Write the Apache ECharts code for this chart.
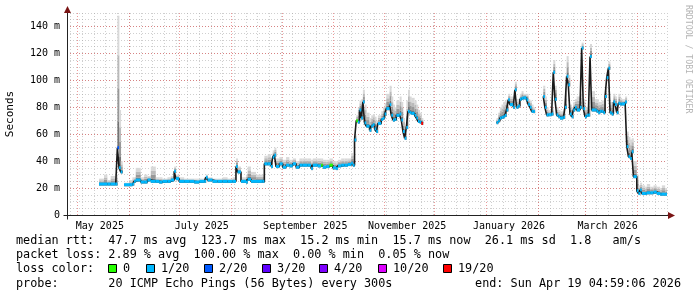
<!DOCTYPE html>
<html>
<head>
<meta charset="utf-8">
<script src="https://cdn.jsdelivr.net/npm/echarts@6/dist/echarts.min.js"></script>
<style>
html,body{margin:0;padding:0;background:#fff;}
#c{width:697px;height:297px;}
</style>
</head>
<body>
<div id="c"></div>
<script>
// ---------------- data ----------------
const dates = [
'2025-05-14','2025-05-17','2025-05-19','2025-05-21','2025-05-24','2025-05-25','2025-05-26','2025-05-27','2025-05-28',
'2025-05-29','2025-06-01','2025-06-03','2025-06-04','2025-06-05','2025-06-08','2025-06-10','2025-06-12','2025-06-14','2025-06-17','2025-06-19','2025-06-21','2025-06-24','2025-06-26','2025-06-28','2025-06-29',
'2025-07-01','2025-07-04','2025-07-07','2025-07-10','2025-07-13','2025-07-16','2025-07-17','2025-07-18','2025-07-21','2025-07-24','2025-07-27','2025-07-30',
'2025-08-02','2025-08-04','2025-08-05','2025-08-07','2025-08-10','2025-08-11','2025-08-13','2025-08-16','2025-08-19','2025-08-20','2025-08-21','2025-08-23','2025-08-25','2025-08-26','2025-08-27','2025-08-28','2025-08-30',
'2025-09-01','2025-09-03','2025-09-05','2025-09-07','2025-09-09','2025-09-11','2025-09-13','2025-09-16','2025-09-18','2025-09-19','2025-09-22','2025-09-24','2025-09-25','2025-09-27','2025-09-29',
'2025-10-01','2025-10-03','2025-10-04','2025-10-06','2025-10-08','2025-10-10','2025-10-12','2025-10-13','2025-10-14','2025-10-15','2025-10-16','2025-10-17','2025-10-18','2025-10-19','2025-10-20','2025-10-21','2025-10-23','2025-10-24','2025-10-25','2025-10-26','2025-10-27','2025-10-28','2025-10-30','2025-10-31',
'2025-11-01','2025-11-02','2025-11-04','2025-11-05','2025-11-06','2025-11-07','2025-11-08','2025-11-10','2025-11-11','2025-11-12','2025-11-13','2025-11-14','2025-11-15','2025-11-16','2025-11-17','2025-11-19','2025-11-20','2025-11-21','2025-11-22','2025-11-23','2025-11-24',
'2026-01-07','2026-01-08','2026-01-09','2026-01-10','2026-01-11','2026-01-12','2026-01-13','2026-01-14','2026-01-15','2026-01-17','2026-01-18','2026-01-19','2026-01-20','2026-01-21','2026-01-22','2026-01-23','2026-01-25','2026-01-26','2026-01-27','2026-01-28','2026-01-29','2026-01-30',
'2026-02-04','2026-02-05','2026-02-06','2026-02-07','2026-02-09','2026-02-10','2026-02-11','2026-02-12','2026-02-13','2026-02-14','2026-02-16','2026-02-17','2026-02-18','2026-02-19','2026-02-20','2026-02-21','2026-02-22','2026-02-23','2026-02-24','2026-02-26','2026-02-27','2026-02-28',
'2026-03-01','2026-03-02','2026-03-03','2026-03-04','2026-03-05','2026-03-07','2026-03-08','2026-03-09','2026-03-10','2026-03-11','2026-03-12','2026-03-13','2026-03-14','2026-03-15','2026-03-16','2026-03-17','2026-03-18','2026-03-19','2026-03-20','2026-03-21','2026-03-22','2026-03-23','2026-03-25','2026-03-26','2026-03-27','2026-03-28','2026-03-29','2026-03-30',
'2026-04-01','2026-04-02','2026-04-03','2026-04-04','2026-04-06','2026-04-07','2026-04-09','2026-04-11','2026-04-13','2026-04-15','2026-04-16','2026-04-18'
];
// median round trip time (ms); null = no data
const medianMs = [
23,23,23,23,23,50,35,32,null,
22.5,22.5,23,25,26,24.5,24.5,26,25,25,24.5,25,25,26,32.5,27,
25,25,25,24.5,25,25,28,26,25,25,25,25,
25,36,32,25,24.5,26.5,25,25,25,25,38,38,36,43,44.5,36,38,
35.5,37,36.5,38,35.5,37,37,37,34.5,37,36.5,37,35.5,36,37,
35,34.5,36.5,37,37,37.5,38.5,37,55.7,70,69,78,72,84,68.4,66,63,66,67,64,62,68,71,72,
75,79,82,74,70.5,71,74,75,70.5,62,57,65,77,76,75.5,74,72,69.5,69,68,null,
68.6,70,72,72.5,73,74,78,85.5,82,80,93,80,81,86,86.7,87,85.5,82,80,77,76.8,null,
88,80,74.3,74.5,75,106,86,74.3,73,72,72.5,80,103,96.7,75,73,78,80,78,80,124,79,
73,74,74.3,117.7,78,78,77,76,77,77,76,88,102,109,76,75,84,82,76,83,82.5,82.5,84,50.8,43.4,42,47,28.5,
18,16,18.6,16,16,16.5,16.5,17,16,15.5,15.5,15.5
];
// top of the smoke (slowest ping, ms)
const smokeMaxMs = [
27,30,26,29,30,148,78,40,null,
24,26,28,28,35,28,30,29,36,28,28,27,28,29,36,30,
28,27,27,27,27,28,30,28,27,27,28,27,
28,42,36,28,30,36,32,30,30,30,44,45,42,48,50,42,43,
41,43,41,42,40,42,42,42,41,42,42,42,41,41,42,
40,40,41,42,42,42,46,44,60,74,80,85,86,93,82,76,72,74,75,73,70,74,77,80,
83,90,96,88,82,80,85,88,84,72,66,85,93,88,87,85,82,78,76,72,null,
72,76,80,82,84,85,86,90,88,86,99,86,86,90,92,90,90,86,85,82,80,null,
96,88,80,78,80,115,96,80,78,77,79,95,118,104,82,80,84,86,88,90,128,86,
80,80,84,127,92,86,86,84,84,85,85,94,108,114,84,82,90,88,82,90,87,86,88,62,58,56,57,40,
30,22,24,22,21,23,21,22,21,20,22,20
];
// loss level per sample: most samples are at level 1 (1/20); exceptions listed
const baseLossLevel = 1;
const lossEventDates = ['2025-05-25','2025-09-24','2025-09-29','2025-10-15','2025-11-23'];
const lossEventLevels = [2,0,0,0,6];

const lossLabels = ['0','1/20','2/20','3/20','4/20','10/20','19/20'];
const lossColors = ['#26ff00','#00b8ff','#0059ff','#5e00ff','#7e00ff','#dd00ff','#ff0000'];

const yTickValues = [0,20,40,60,80,100,120,140];
const monthLabels = ['May 2025','July 2025','September 2025','November 2025','January 2026','March 2026'];
const monthLabelDates = ['2025-05-14','2025-07-14','2025-09-14','2025-11-14','2026-01-14','2026-03-14'];

const statLines = [
  'median rtt:  47.7 ms avg  123.7 ms max  15.2 ms min  15.7 ms now  26.1 ms sd  1.8   am/s',
  'packet loss: 2.89 % avg  100.00 % max  0.00 % min  0.05 % now'
];
const lossTitle = 'loss color:';
const probeText = 'probe:       20 ICMP Echo Pings (56 Bytes) every 300s';
const endText = 'end: Sun Apr 19 04:59:06 2026';
const yAxisTitle = 'Seconds';
const watermark = 'RRDTOOL / TOBI OETIKER';

// ---------------- helpers ----------------
const DAY = 86400000;
const T = s => { const p = s.split('-').map(Number); return Date.UTC(p[0], p[1]-1, p[2]); };
const xMin = Date.UTC(2025,3,24,20,0), xMax = Date.UTC(2026,3,19,2,15);
const lossOf = d => { const k = lossEventDates.indexOf(d); return k < 0 ? baseLossLevel : lossEventLevels[k]; };

const xs = dates.map(T);
const V = v => (v == null ? '-' : v);
// smoke shading: darker near the median, lighter towards the slowest ping
const shadeEdges = [0.2, 0.45, 0.7, 1.0];
const shadeCol = ['#747474', '#989898', '#bababa', '#d9d9d9'];

// grid lines
const weekLines = [];
for (let t = Date.UTC(2025,3,27); t < xMax; t += 7*DAY) weekLines.push(t);
const monthLines = [];
for (let y = 2025, m = 4; Date.UTC(y,m,1) < xMax; m++) { if (m > 11) { m = 0; y++; } monthLines.push(Date.UTC(y,m,1)); }

const MONO = 'DejaVu Sans Mono';
const GREY = 'rgba(160,160,160,0.5)';
const RED = 'rgba(220,70,70,0.55)';

const markData = []
  .concat(weekLines.map(t => ({ xAxis: t, lineStyle: { color: GREY, type: [1,2], width: 1 } })))
  .concat(monthLines.map(t => ({ xAxis: t, lineStyle: { color: RED, type: [1,2], width: 1 } })))
  .concat(yTickValues.filter(v => v > 0).map(v => ({ yAxis: v, lineStyle: { color: RED, type: [1,2], width: 1 } })));

const smokeData = [], rects = [];
medianMs.forEach((m, i) => {
  if (m == null) return;
  const next = i + 1 < xs.length ? xs[i+1] : xMax;
  smokeData.push([xs[i], m, next, smokeMaxMs[i]]);
  rects.push([xs[i], m, next, lossOf(dates[i])]);
});

const series = [];
// smoke
series.push({
  type: 'custom', z: 3, clip: true,
  encode: { x: [0, 2], y: [1, 3] },
  data: smokeData,
  renderItem: (params, api) => {
    const t0 = api.value(0), t1 = api.value(2), med = api.value(1), hi = api.value(3);
    const xa = api.coord([t0, med])[0], xb = api.coord([t1, med])[0];
    const w = Math.max(xb - xa, 2);
    const children = [];
    let lo = med - 1.2;
    shadeEdges.forEach((f, k) => {
      const top = med + f * (hi - med);
      const yTop = api.coord([t0, top])[1], yBot = api.coord([t0, lo])[1];
      children.push({ type: 'rect', shape: { x: xa, y: yTop, width: w, height: yBot - yTop },
        style: { fill: shadeCol[k] } });
      lo = top;
    });
    return { type: 'group', children: children };
  },
  markLine: { silent: true, symbol: 'none', animation: false, label: { show: false }, z: 1, data: markData }
});
// median line
series.push({
  type: 'line', step: 'end', symbol: 'none', z: 4,
  data: xs.map((x, i) => [x, V(medianMs[i])]),
  lineStyle: { color: '#1a1a1a', width: 1.6 }
});
// median coloured by loss
series.push({
  type: 'custom', z: 5, clip: true,
  encode: { x: [0, 2], y: 1 },
  data: rects,
  renderItem: (params, api) => {
    const a = api.coord([api.value(0), api.value(1)]);
    const b = api.coord([api.value(2), api.value(1)]);
    return { type: 'rect', shape: { x: a[0], y: a[1] - 1.5, width: Math.max(b[0] - a[0], 1.7), height: 3 },
             style: { fill: lossColors[api.value(3)] } };
  }
});

const chart = echarts.init(document.getElementById('c'), null, { renderer: 'canvas' });
chart.setOption({
  animation: false,
  backgroundColor: '#ffffff',
  grid: { left: 67, top: 13, width: 600, height: 202, containLabel: false },
  xAxis: {
    type: 'value', min: xMin, max: xMax,
    axisLine: { show: false }, axisTick: { show: false }, axisLabel: { show: false }, splitLine: { show: false }
  },
  yAxis: {
    type: 'value', min: 0, max: 150, interval: 5,
    axisLine: { show: false }, axisTick: { show: false },
    axisLabel: { margin: 7, color: '#000', fontFamily: MONO, fontSize: 10,
      formatter: v => yTickValues.indexOf(v) < 0 ? '' : (v === 0 ? '0' : v + ' m') },
    splitLine: { show: true, lineStyle: { color: GREY, type: [1,2], width: 1 } }
  },
  series: series
});

// decorations placed through the chart's own scales
const px = (x, y) => chart.convertToPixel({ gridIndex: 0 }, [x, y]);
const o = px(xMin, 0), e = px(xMax, 150);
const ax = Math.round(o[0]) + 0.5, ay = Math.round(o[1]) + 0.5;
const ex = Math.round(e[0]), ey = Math.round(e[1]);
const g = [];
g.push({ type: 'line', shape: { x1: ax - 4, y1: ay, x2: ex + 2, y2: ay }, style: { stroke: '#222', lineWidth: 1 }, z: 50 });
g.push({ type: 'line', shape: { x1: ax, y1: ay + 4, x2: ax, y2: ey - 1 }, style: { stroke: '#222', lineWidth: 1 }, z: 50 });
g.push({ type: 'polygon', shape: { points: [[ex + 1, ay - 3.5], [ex + 8, ay], [ex + 1, ay + 3.5]] }, style: { fill: '#7a1414' }, z: 51 });
g.push({ type: 'polygon', shape: { points: [[ax - 3.5, ey], [ax, ey - 7], [ax + 3.5, ey]] }, style: { fill: '#7a1414' }, z: 51 });
monthLabelDates.forEach((d, i) => {
  const p = px(T(d) + DAY / 2, 0);
  g.push({ type: 'text', x: p[0], y: ay + 10.5, z: 50,
    style: { text: monthLabels[i], fill: '#000', fontFamily: MONO, fontSize: 10, align: 'center', verticalAlign: 'middle' } });
});
g.push({ type: 'text', x: 10, y: 114, rotation: Math.PI / 2, z: 50,
  style: { text: yAxisTitle, fill: '#000', fontFamily: MONO, fontSize: 11, align: 'center', verticalAlign: 'middle' } });
g.push({ type: 'text', x: 688, y: 5, rotation: -Math.PI / 2, z: 50,
  style: { text: watermark, fill: '#b4b4b4', fontFamily: MONO, fontSize: 8.2, align: 'left', verticalAlign: 'middle' } });
const LF = 11.8, LX = 16;
const lineY = [241, 255, 269, 284];
statLines.forEach((t, i) => g.push({ type: 'text', x: LX, y: lineY[i], z: 50,
  style: { text: t, fill: '#000', fontFamily: MONO, fontSize: LF, align: 'left', verticalAlign: 'middle' } }));
g.push({ type: 'text', x: LX, y: lineY[2], z: 50,
  style: { text: lossTitle, fill: '#000', fontFamily: MONO, fontSize: LF, align: 'left', verticalAlign: 'middle' } });
const boxX = [108, 146, 204, 262, 319, 378, 443];
lossLabels.forEach((t, i) => {
  g.push({ type: 'rect', shape: { x: boxX[i] + 0.5, y: lineY[2] - 4.5, width: 8, height: 8 }, z: 50,
    style: { fill: lossColors[i], stroke: '#000', lineWidth: 1 } });
  g.push({ type: 'text', x: boxX[i] + 15, y: lineY[2], z: 50,
    style: { text: t, fill: '#000', fontFamily: MONO, fontSize: LF, align: 'left', verticalAlign: 'middle' } });
});
g.push({ type: 'text', x: LX, y: lineY[3], z: 50,
  style: { text: probeText, fill: '#000', fontFamily: MONO, fontSize: LF, align: 'left', verticalAlign: 'middle' } });
g.push({ type: 'text', x: 681, y: lineY[3], z: 50,
  style: { text: endText, fill: '#000', fontFamily: MONO, fontSize: LF, align: 'right', verticalAlign: 'middle' } });
chart.setOption({ graphic: g });
</script>
</body>
</html>
